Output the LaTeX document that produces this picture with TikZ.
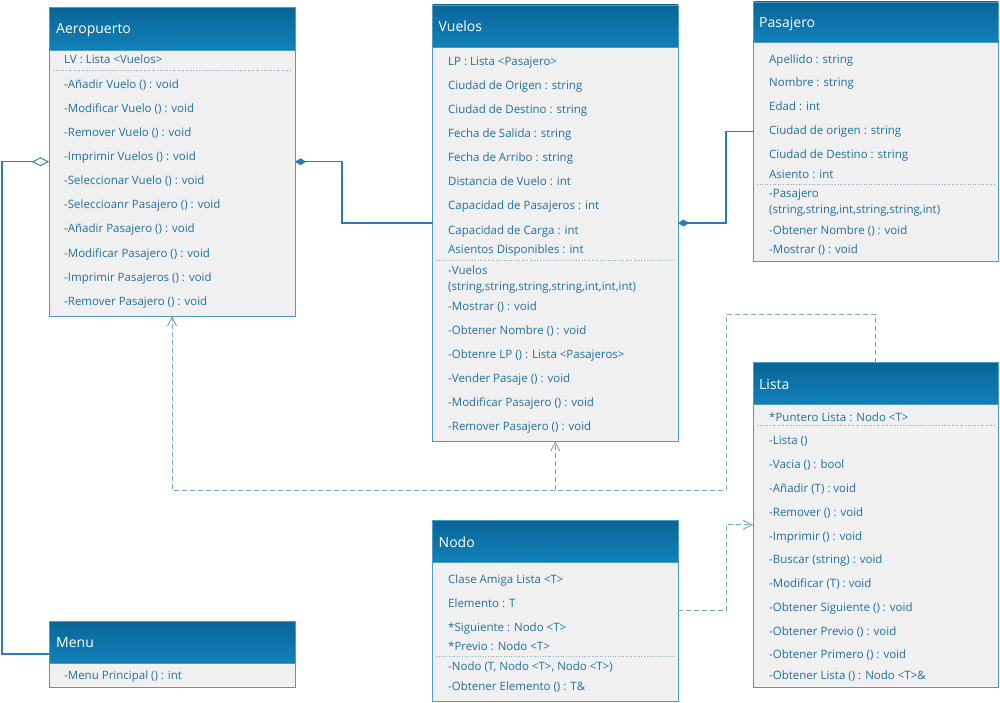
\documentclass[tikz,border=0pt]{standalone}
\usepackage{fontspec}
\setmainfont{Open Sans}
\usetikzlibrary{arrows.meta}
\definecolor{hdrtop}{HTML}{0A6597}
\definecolor{hdrbot}{HTML}{1281B9}
\definecolor{bodyfill}{HTML}{F0F0F0}
\definecolor{bordc}{HTML}{4E9CC6}
\definecolor{txtc}{HTML}{22709E}
\definecolor{linec}{HTML}{2A7DB0}
\definecolor{depc}{HTML}{6FA6C6}
\definecolor{sepc}{HTML}{8AA9BC}
\tikzset{
  odia/.tip={Diamond[open, length=17pt, width=9pt, line width=0.9pt]},
  fdia/.tip={Diamond[length=11pt, width=7pt]},
  vtip/.tip={Straight Barb[length=9pt, width=9pt, line width=0.9pt]}
}
\begin{document}
\begin{tikzpicture}[x=1pt,y=-1pt,
  bodybox/.style={draw=bordc, line width=0.9pt, fill=bodyfill, inner sep=0pt, outer sep=0pt, anchor=north west},
  hdrbox/.style={draw=bordc, line width=0.9pt, top color=hdrtop, bottom color=hdrbot, inner sep=0pt, outer sep=0pt, anchor=north west},
  ttl/.style={anchor=base west, inner sep=0pt, text=white, font=\fontsize{14}{16}\selectfont},
  txt/.style={anchor=base west, inner sep=0pt, text=txtc, font=\fontsize{11.5}{13}\selectfont},
  sep/.style={sepc, line width=0.6pt, dotted},
  assoc/.style={linec, line width=1.2pt},
  dep/.style={depc, line width=0.9pt, dash pattern=on 5pt off 3pt}
]
\fill[white] (0,0) rectangle (1000,703);
\useasboundingbox (0,0) rectangle (1000,703);

% ---------- Aeropuerto ----------
\node[bodybox, minimum width=246pt, minimum height=308.5pt] (aero) at (49,7.5) {};
\node[hdrbox, minimum width=246pt, minimum height=42.5pt] (aeroh) at (49,7.5) {};
\node[ttl] (aerot) at (56,34) {Aeropuerto};
\node[txt] (aa1) at (64,64) {LV : Lista <Vuelos>};
\draw[sep] (53,70.7) -- (290,70.7);
\foreach \t [count=\i] in {-Añadir Vuelo () : void, -Modificar Vuelo () : void, -Remover Vuelo () : void, -Imprimir Vuelos () : void, -Seleccionar Vuelo () : void, -Seleccioanr Pasajero () : void, -Añadir Pasajero () : void, -Modificar Pasajero () : void, -Imprimir Pasajeros () : void, -Remover Pasajero () : void}
  {\node[txt] (am\i) at (64,{89+24*(\i-1)}) {\t};}

% ---------- Vuelos ----------
\node[bodybox, minimum width=245.5pt, minimum height=436pt] (vuelos) at (432.5,5) {};
\node[hdrbox, minimum width=245.5pt, minimum height=42pt] (vuelosh) at (432.5,5) {};
\node[ttl] (vuelost) at (438.5,31.5) {Vuelos};
\node[txt] (va1) at (448,66) {LP : Lista <Pasajero>};
\node[txt] (va2) at (448,90) {Ciudad de Origen : string};
\node[txt] (va3) at (448,114) {Ciudad de Destino : string};
\node[txt] (va4) at (448,138) {Fecha de Salida : string};
\node[txt] (va5) at (448,161.5) {Fecha de Arribo : string};
\node[txt] (va6) at (448,186) {Distancia de Vuelo : int};
\node[txt] (va7) at (448,210) {Capacidad de Pasajeros : int};
\node[txt] (va8) at (448,234) {Capacidad de Carga : int};
\node[txt] (va9) at (448,253.5) {Asientos Disponibles : int};
\draw[sep] (436,260) -- (674,260);
\node[txt] (vm1) at (448,274) {-Vuelos};
\node[txt] (vm2) at (448,290.5) {(string,string,string,string,int,int,int)};
\node[txt] (vm3) at (448,310) {-Mostrar () : void};
\node[txt] (vm4) at (448,334) {-Obtener Nombre () : void};
\node[txt] (vm5) at (448,358) {-Obtenre LP () : Lista <Pasajeros>};
\node[txt] (vm6) at (448,382) {-Vender Pasaje () : void};
\node[txt] (vm7) at (448,406) {-Modificar Pasajero () : void};
\node[txt] (vm8) at (448,430) {-Remover Pasajero () : void};

% ---------- Pasajero ----------
\node[bodybox, minimum width=244.5pt, minimum height=259pt] (pas) at (753.5,2) {};
\node[hdrbox, minimum width=244.5pt, minimum height=40.5pt] (pash) at (753.5,2) {};
\node[ttl] (past) at (759,27.5) {Pasajero};
\node[txt] (pa1) at (769,63.5) {Apellido : string};
\node[txt] (pa2) at (769,87) {Nombre : string};
\node[txt] (pa3) at (769,111) {Edad : int};
\node[txt] (pa4) at (769,135) {Ciudad de origen : string};
\node[txt] (pa5) at (769,159) {Ciudad de Destino : string};
\node[txt] (pa6) at (769,179) {Asiento : int};
\draw[sep] (757,184) -- (994,184);
\node[txt] (pm1) at (769,197.5) {-Pasajero};
\node[txt] (pm2) at (769,214) {(string,string,int,string,string,int)};
\node[txt] (pm3) at (769,234) {-Obtener Nombre () : void};
\node[txt] (pm4) at (769,253.5) {-Mostrar () : void};

% ---------- Lista ----------
\node[bodybox, minimum width=245pt, minimum height=324.5pt] (lista) at (753,362.5) {};
\node[hdrbox, minimum width=245pt, minimum height=42pt] (listah) at (753,362.5) {};
\node[ttl] (listat) at (759,389) {Lista};
\node[txt] (la1) at (769,421) {*Puntero Lista : Nodo <T>};
\draw[sep] (757,425.7) -- (994,425.7);
\node[txt] (lm1) at (769,444) {-Lista ()};
\node[txt] (lm2) at (769,468) {-Vacia () : bool};
\node[txt] (lm3) at (769,492) {-Añadir (T) : void};
\node[txt] (lm4) at (769,516) {-Remover () : void};
\node[txt] (lm5) at (769,540) {-Imprimir () : void};
\node[txt] (lm6) at (769,563.5) {-Buscar (string) : void};
\node[txt] (lm7) at (769,587.5) {-Modificar (T) : void};
\node[txt] (lm8) at (769,611) {-Obtener Siguiente () : void};
\node[txt] (lm9) at (769,635) {-Obtener Previo () : void};
\node[txt] (lm10) at (769,658.5) {-Obtener Primero () : void};
\node[txt] (lm11) at (769,679) {-Obtener Lista () : Nodo <T>\&};

% ---------- Nodo ----------
\node[bodybox, minimum width=245.5pt, minimum height=180.5pt] (nodo) at (432.5,520.5) {};
\node[hdrbox, minimum width=245.5pt, minimum height=42pt] (nodoh) at (432.5,520.5) {};
\node[ttl] (nodot) at (438.5,547) {Nodo};
\node[txt] (na1) at (448,583.5) {Clase Amiga Lista <T>};
\node[txt] (na2) at (448,607) {Elemento : T};
\node[txt] (na3) at (448,631) {*Siguiente : Nodo <T>};
\node[txt] (na4) at (448,650) {*Previo : Nodo <T>};
\draw[sep] (436,656) -- (674,656);
\node[txt] (nm1) at (448,670) {-Nodo (T, Nodo <T>, Nodo <T>)};
\node[txt] (nm2) at (448,690) {-Obtener Elemento () : T\&};

% ---------- Menu ----------
\node[bodybox, minimum width=246pt, minimum height=66pt] (menu) at (49,621) {};
\node[hdrbox, minimum width=246pt, minimum height=42pt] (menuh) at (49,621) {};
\node[ttl] (menut) at (56,647.5) {Menu};
\node[txt] (mm1) at (64,679) {-Menu Principal () : int};

% ---------- connectors ----------
\draw[assoc, {odia}-] (aero.west) -- ++(-47,0) |- (menu.west);
\draw[assoc, {fdia}-] (aero.east) -- ++(47,0) |- (vuelos.west);
\draw[assoc, {fdia}-] (vuelos.east) -- ++(48,0) |- (pas.west);
\coordinate (j) at (726,490);
\draw[dep, -{vtip}] (lista.north) -- ++(0,-48) -| (j) -| (aero.south);
\draw[dep, -{vtip}] (vuelos.south |- j) -- (vuelos.south);
\draw[dep, -{vtip}] (nodo.east) -- ++(48,0) |- (lista.west);
\end{tikzpicture}
\end{document}
